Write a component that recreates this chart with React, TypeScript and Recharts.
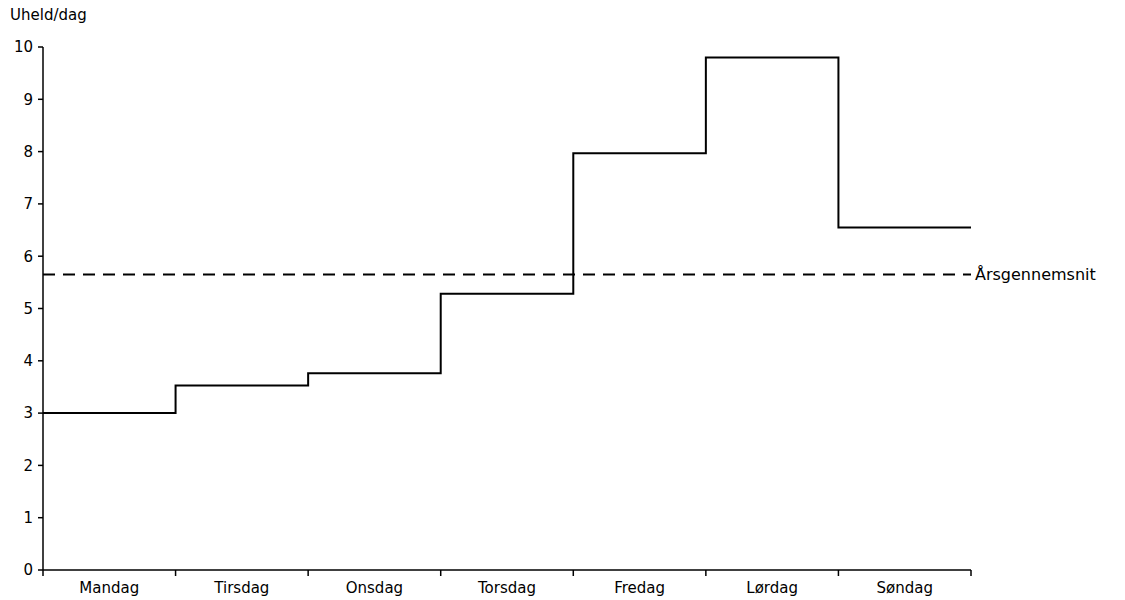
import React from 'react'
import {
  LineChart,
  Line,
  XAxis,
  YAxis,
  ReferenceLine,
} from 'recharts'

const days = ['Mandag', 'Tirsdag', 'Onsdag', 'Torsdag', 'Fredag', 'Lørdag', 'Søndag']
const accidents = [3.0, 3.53, 3.76, 5.28, 7.97, 9.8, 6.55]
const yearAverage = 5.65
const yTicks = [0, 1, 2, 3, 4, 5, 6, 7, 8, 9, 10]

// step points sit on the day boundaries, the last day is held to the end
const data = [
  ...accidents.map((v, i) => ({ x: i, v })),
  { x: days.length, v: accidents[accidents.length - 1] },
]

const xTicks: number[] = []
for (let i = 0; i <= days.length; i++) {
  xTicks.push(i)
  if (i < days.length) xTicks.push(i + 0.5)
}

const FONT = 'DejaVu Sans, sans-serif'

function DayTick(props: any) {
  const { x, y, payload } = props
  const v = payload.value as number
  if (Number.isInteger(v)) {
    return <line x1={x} y1={y} x2={x} y2={y + 6} stroke="#000" strokeWidth={1.5} />
  }
  return (
    <text x={x} y={y + 23} textAnchor="middle" fontSize={15} fontFamily={FONT} fill="#000">
      {days[Math.floor(v)]}
    </text>
  )
}

export default function App() {
  return (
    <div style={{ position: 'relative', width: 1109, height: 592, background: '#fff' }}>
      <div
        style={{
          position: 'absolute',
          left: 2,
          top: -2,
          fontFamily: FONT,
          fontSize: 15,
          color: '#000',
        }}
      >
        Uheld/dag
      </div>
      <LineChart
        width={1109}
        height={592}
        data={data}
        margin={{ top: 39, right: 146, bottom: 0, left: 10 }}
      >
        <XAxis
          dataKey="x"
          type="number"
          domain={[0, days.length]}
          ticks={xTicks}
          interval={0}
          tick={<DayTick />}
          tickLine={false}
          tickSize={0}
          tickMargin={0}
          height={30}
          axisLine={{ stroke: '#000', strokeWidth: 1.5 }}
        />
        <YAxis
          type="number"
          domain={[0, 10]}
          ticks={yTicks}
          interval={0}
          width={25}
          tickSize={5}
          tickMargin={5}
          tick={{ fill: '#000', fontSize: 15, fontFamily: FONT }}
          tickLine={{ stroke: '#000', strokeWidth: 1.5 }}
          axisLine={{ stroke: '#000', strokeWidth: 1.5 }}
        />
        <ReferenceLine
          y={yearAverage}
          stroke="#000"
          strokeWidth={2}
          strokeDasharray="12 8"
          label={{
            value: 'Årsgennemsnit',
            position: 'right',
            offset: 4,
            fill: '#000',
            fontSize: 16,
            fontFamily: FONT,
          }}
        />
        <Line
          type="stepAfter"
          dataKey="v"
          stroke="#000"
          strokeWidth={2}
          dot={false}
          isAnimationActive={false}
        />
      </LineChart>
    </div>
  )
}
